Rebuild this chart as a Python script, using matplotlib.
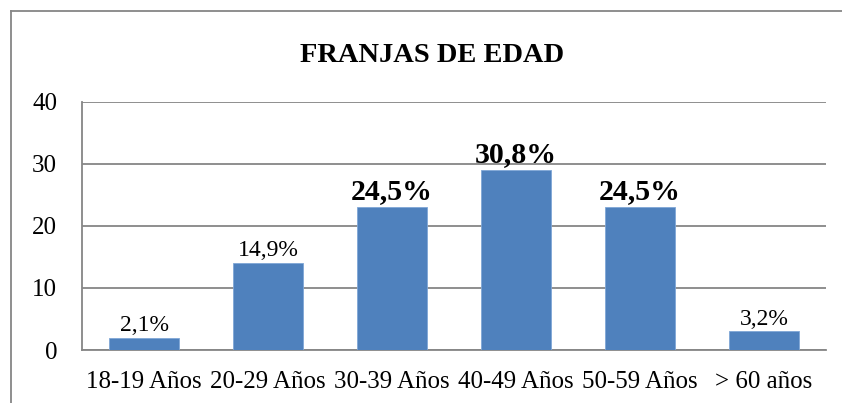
import matplotlib.pyplot as plt
from matplotlib.lines import Line2D

categorias = ["18-19 Años", "20-29 Años", "30-39 Años", "40-49 Años", "50-59 Años", "> 60 años"]
valores = [2, 14, 23, 29, 23, 3]
etiquetas = ["2,1%", "14,9%", "24,5%", "30,8%", "24,5%", "3,2%"]
destacadas = [False, False, True, True, True, False]

plt.rcParams["font.family"] = "Liberation Serif"

fig = plt.figure(figsize=(8.42, 4.03), dpi=100)
ax = fig.add_axes([0.0974, 0.1315, 0.8836, 0.6155])

gris = "#868686"
x = range(len(categorias))
barras = ax.bar(x, valores, width=0.57, color="#4F81BD", edgecolor="#7FA6D6", linewidth=0.6, zorder=3)

for b, txt, neg in zip(barras, etiquetas, destacadas):
    ax.text(b.get_x() + b.get_width() / 2, b.get_height() + 0.3, txt,
            ha="center", va="bottom",
            fontsize=21.5 if neg else 17, fontweight="bold" if neg else "normal")

ax.set_xlim(-0.5, len(categorias) - 0.5)
ax.set_ylim(0, 40)
ax.set_yticks([0, 10, 20, 30, 40])
ax.set_xticks(list(x))
ax.set_xticklabels(categorias)
ax.yaxis.grid(True, color=gris, linewidth=1.3, zorder=0)
ax.set_axisbelow(True)
for s in ["top", "right"]:
    ax.spines[s].set_visible(False)
for s in ["left", "bottom"]:
    ax.spines[s].set_color(gris)
    ax.spines[s].set_linewidth(1.3)
ax.tick_params(axis="both", length=0, labelsize=18)
ax.tick_params(axis="y", pad=18)
ax.tick_params(axis="x", pad=15)

fig.text(0.513, 0.862, "FRANJAS DE EDAD", ha="center", va="center", fontsize=20.5, fontweight="bold")

# marco del grafico (solo se ven arriba e izquierda)
fig.add_artist(Line2D([11 / 842, 1.0], [1 - 11 / 403, 1 - 11 / 403], transform=fig.transFigure, color=gris, linewidth=1.3))
fig.add_artist(Line2D([11 / 842, 11 / 842], [0.0, 1 - 11 / 403], transform=fig.transFigure, color=gris, linewidth=1.3))

fig.savefig("out.png", dpi=100)
